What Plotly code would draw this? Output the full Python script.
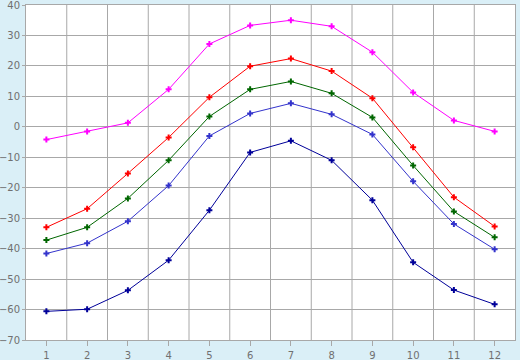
import plotly.graph_objects as go

months = [1, 2, 3, 4, 5, 6, 7, 8, 9, 10, 11, 12]
y_ticks = [-70, -60, -50, -40, -30, -20, -10, 0, 10, 20, 30, 40]
magenta_vals = [-4.2, -1.5, 1.3, 12.3, 27.2, 33.3, 35.0, 33.0, 24.5, 11.3, 2.1, -1.5]
red_vals = [-33.0, -26.9, -15.3, -3.5, 9.7, 19.9, 22.4, 18.3, 9.4, -6.7, -23.1, -32.7]
green_vals = [-37.2, -33.0, -23.5, -11.0, 3.4, 12.3, 14.9, 11.0, 3.1, -12.7, -27.8, -36.3]
blue_vals = [-41.6, -38.2, -31.0, -19.3, -3.0, 4.4, 7.7, 4.1, -2.5, -17.9, -31.9, -40.2]
navy_vals = [-60.6, -59.9, -53.7, -43.8, -27.4, -8.4, -4.6, -11.0, -24.1, -44.5, -53.6, -58.3]

series = [
    (magenta_vals, "#FF00FF"),
    (red_vals, "#FF0000"),
    (green_vals, "#006600"),
    (blue_vals, "#3333CC"),
    (navy_vals, "#000099"),
]

fig = go.Figure()
for vals, col in series:
    fig.add_trace(go.Scatter(
        x=months, y=vals, mode="lines+markers",
        line=dict(color=col, width=1),
        marker=dict(symbol="cross", size=5, color=col, line=dict(width=0)),
        showlegend=False, cliponaxis=False,
    ))

grid = "#A8A8A8"
fig.update_layout(
    width=520, height=360,
    margin=dict(l=26, r=5, t=5, b=20, autoexpand=False),
    paper_bgcolor="#DAEFF7",
    plot_bgcolor="#FFFFFF",
    font=dict(family="DejaVu Sans", size=10, color="#707070"),
)
fig.update_xaxes(
    range=[0.5, 12.5], tickmode="array", tickvals=months,
    ticks="outside", ticklen=5, tickcolor=grid, ticklabelstandoff=1,
    ticklabeloverflow="allow",
    showgrid=False, zeroline=False, automargin=False,
    showline=True, linecolor=grid, mirror=True,
    fixedrange=True,
)
# vertical gridlines between categories
for xv in [i + 0.5 for i in range(1, 12)]:
    fig.add_vline(x=xv, line=dict(color=grid, width=1), layer="below")
fig.update_yaxes(
    range=[-70, 40], tickmode="array", tickvals=y_ticks,
    ticks="outside", ticklen=3, tickcolor=grid, ticklabelstandoff=0,
    ticklabeloverflow="allow",
    showgrid=True, gridcolor=grid, gridwidth=1, automargin=False,
    zeroline=False, showline=True, linecolor=grid, mirror=True,
    fixedrange=True,
)
fig.write_html(
    "out.html",
    config={"displayModeBar": False},
    post_script="document.body.style.margin='0';document.body.style.overflow='hidden';",
)
